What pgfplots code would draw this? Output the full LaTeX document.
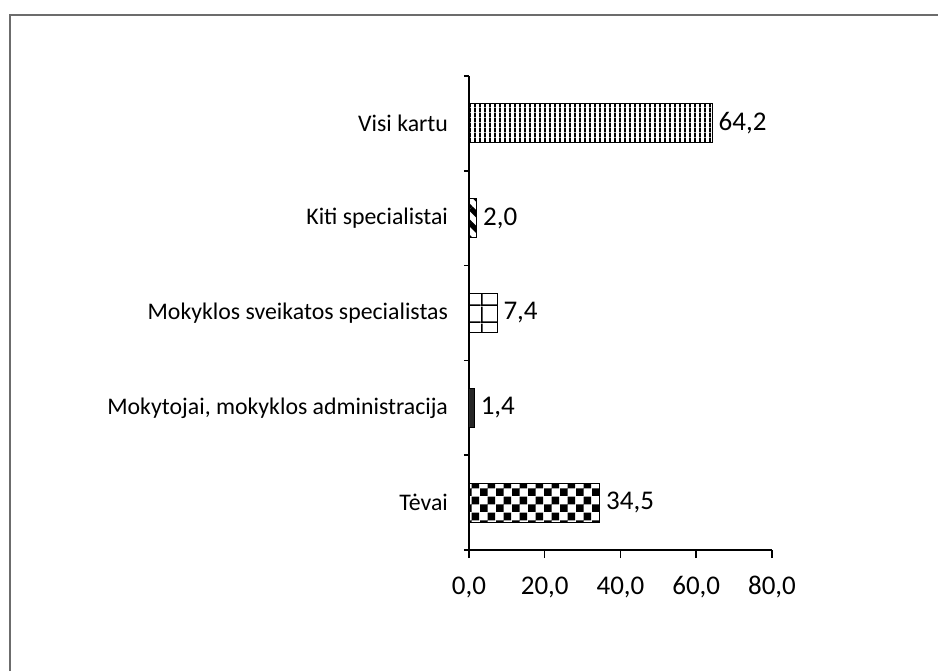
\documentclass[border=0pt]{standalone}
\usepackage{pgfplots}
\pgfplotsset{compat=1.18}
\usepackage{fontspec}
\setmainfont{Carlito}
\usetikzlibrary{patterns,patterns.meta}

% fill patterns for the bars
\pgfdeclarepatternformonly{vstripes}{\pgfqpoint{0pt}{0pt}}{\pgfqpoint{2.3pt}{2.3pt}}{\pgfqpoint{2.3pt}{2.3pt}}{%
  \pgfpathrectangle{\pgfqpoint{0pt}{0pt}}{\pgfqpoint{1.05pt}{2.3pt}}\pgfusepath{fill}}
\pgfdeclarepatternformonly{widegrid}{\pgfqpoint{0pt}{0pt}}{\pgfqpoint{8.3pt}{8.3pt}}{\pgfqpoint{8.3pt}{8.3pt}}{%
  \pgfpathrectangle{\pgfqpoint{0pt}{0pt}}{\pgfqpoint{8.3pt}{0.8pt}}%
  \pgfpathrectangle{\pgfqpoint{0pt}{0pt}}{\pgfqpoint{0.8pt}{8.3pt}}\pgfusepath{fill}}
\pgfdeclarepatternformonly{bigchecker}{\pgfqpoint{0pt}{0pt}}{\pgfqpoint{8pt}{8pt}}{\pgfqpoint{8pt}{8pt}}{%
  \pgfpathrectangle{\pgfqpoint{0pt}{0pt}}{\pgfqpoint{4pt}{4pt}}%
  \pgfpathrectangle{\pgfqpoint{4pt}{4pt}}{\pgfqpoint{4pt}{4pt}}\pgfusepath{fill}}

\begin{document}
\begin{tikzpicture}
\useasboundingbox (0,0) rectangle (469pt,335.5pt);
% chart frame
\draw[color=gray!85!black, line width=1pt] (5pt,0) -- (5pt,328pt) -- (469pt,328pt);
\begin{axis}[
  at={(234.5pt,60.5pt)}, anchor=south west,
  scale only axis, width=151.5pt, height=237pt,
  xbar, bar width=19.5pt, bar shift=0pt,
  xmin=0, xmax=80, ymin=-0.5, ymax=4.5,
  axis x line*=bottom, axis y line*=left,
  axis line style={line width=0.75pt},
  tick style={line width=0.75pt, black},
  tick align=outside,
  major tick length=4pt, minor tick length=2.5pt,
  xtick={0,20,40,60,80},
  ytick={0,1,2,3,4},
  minor ytick={-0.5,0.5,1.5,2.5,3.5,4.5},
  every major y tick/.append style={draw=none},
  yticklabels={Tėvai, {Mokytojai, mokyklos administracija}, Mokyklos sveikatos specialistas, Kiti specialistai, Visi kartu},
  /pgf/number format/assume math mode=true,
  xticklabel style={font=\fontsize{13.5}{16}\selectfont, anchor=north,
    text height=9.5pt, text depth=2.5pt, yshift=-5pt,
    /pgf/number format/.cd, fixed, fixed zerofill, precision=1, use comma},
  yticklabel style={font=\fontsize{11.9}{14}\selectfont, xshift=-3pt},
  nodes near coords,
  nodes near coords style={font=\fontsize{13.5}{16}\selectfont, anchor=west, inner sep=0pt, xshift=3pt,
    /pgf/number format/.cd, fixed, fixed zerofill, precision=1, use comma},
  every axis plot/.append style={draw=black, line width=0.5pt},
]
\addplot[pattern=bigchecker] coordinates {(34.5,0)};
\addplot[fill=black!85] coordinates {(1.4,1)};
\addplot[pattern=widegrid] coordinates {(7.4,2)};
\addplot[pattern={Lines[angle=-45,distance=5.5pt,line width=2.6pt]}] coordinates {(2.0,3)};
\addplot[pattern=vstripes] coordinates {(64.2,4)};
\end{axis}
\end{tikzpicture}
\end{document}
